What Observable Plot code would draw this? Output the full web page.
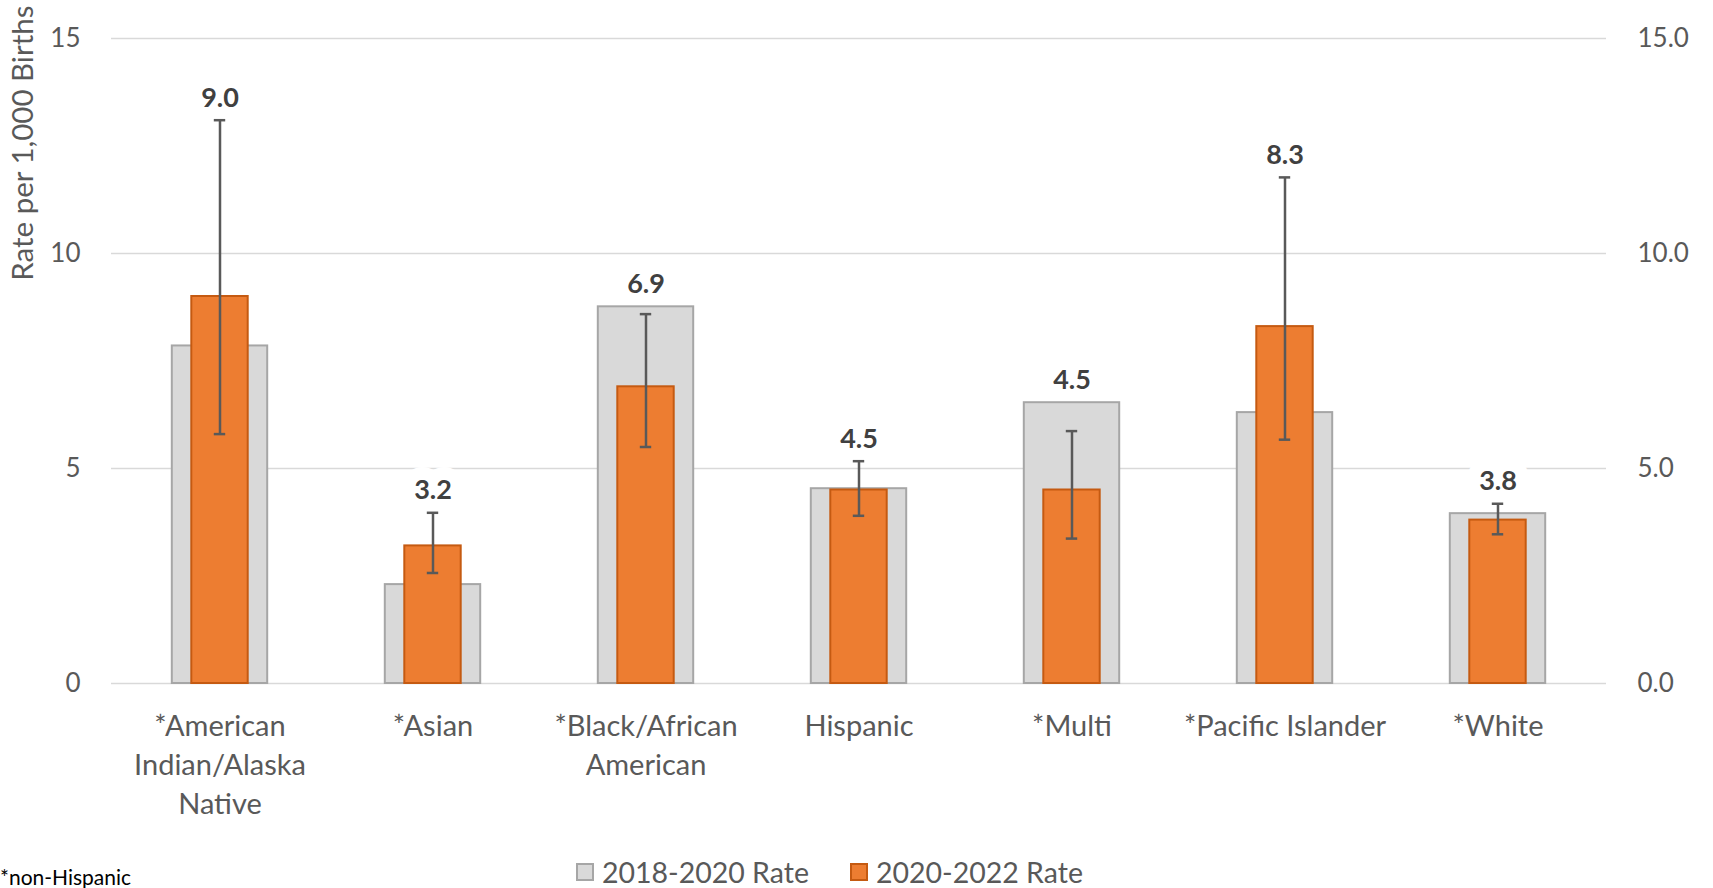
<!DOCTYPE html>
<html>
<head>
<meta charset="utf-8">
<script src="https://cdn.jsdelivr.net/npm/d3@7"></script>
<script src="https://cdn.jsdelivr.net/npm/@observablehq/plot@0.6"></script>
<style>
  html, body { margin: 0; padding: 0; background: #fff; overflow: hidden; }
  #wrap { position: relative; width: 1713px; height: 888px; font-family: Lato, "Open Sans", sans-serif; }
  #legend { position: relative; width: 1713px; height: 43px; }
  .item { position: absolute; top: 10px; display: flex; align-items: center; font-size: 28.5px; color: #595959; white-space: nowrap; }
  .sw { width: 18px; height: 18px; margin-right: 8px; box-sizing: border-box; }
  #foot { position: absolute; left: 0px; top: 19px; font-size: 21px; color: #000; white-space: nowrap; }
</style>
</head>
<body>
<div id="wrap">
  <div id="chart"></div>
  <div id="legend"></div>
</div>
<script>
const categories = ["*American Indian/Alaska Native", "*Asian", "*Black/African American", "Hispanic", "*Multi", "*Pacific Islander", "*White"];
const tickLabels = ["*American\nIndian/Alaska\nNative", "*Asian", "*Black/African\nAmerican", "Hispanic", "*Multi", "*Pacific Islander", "*White"];
const rate2018 = [7.85, 2.30, 8.76, 4.53, 6.53, 6.30, 3.95];
const rate2020 = [9.0, 3.2, 6.9, 4.5, 4.5, 8.3, 3.8];
const ciLow = [5.8, 2.57, 5.5, 3.9, 3.37, 5.67, 3.47];
const ciHigh = [13.1, 3.97, 8.59, 5.17, 5.87, 11.77, 4.18];
const yTicks = [0, 5, 10, 15];
const seriesNames = ["2018-2020 Rate", "2020-2022 Rate"];

const rows = categories.map((c, i) => ({
  cat: c, r18: rate2018[i], r20: rate2020[i], lo: ciLow[i], hi: ciHigh[i],
  labelY: Math.max(rate2018[i], ciHigh[i]), label: rate2020[i].toFixed(1)
}));
const labelMap = new Map(categories.map((c, i) => [c, tickLabels[i]]));

const GRAY = "#d9d9d9", GRAYSTROKE = "#a6a6a6", ORANGE = "#ed7d31", ORANGESTROKE = "#c55a11";
const font = "Lato, 'Open Sans', sans-serif";

const chart = Plot.plot({
  width: 1713,
  height: 845,
  marginLeft: 111,
  marginRight: 107,
  marginTop: 38,
  marginBottom: 162,
  style: { fontFamily: font, background: "white", color: "#595959" },
  x: { domain: categories, padding: 0, label: null },
  y: { domain: [0, 15], label: null },
  marks: [
    Plot.ruleY(yTicks, { stroke: "#d9d9d9", strokeWidth: 1.5 }),
    Plot.text(rows, { x: "cat", y: "labelY", text: "label", dy: -22, fontSize: 27, fontWeight: "bold", fill: "white", stroke: "white", strokeWidth: 26, strokeLinejoin: "miter" }),
    Plot.barY(rows, { x: "cat", y: "r18", fill: GRAY, stroke: GRAYSTROKE, strokeWidth: 2, insetLeft: 58.8, insetRight: 58.8 }),
    Plot.barY(rows, { x: "cat", y: "r20", fill: ORANGE, stroke: ORANGESTROKE, strokeWidth: 2, insetLeft: 78.3, insetRight: 78.3 }),
    Plot.ruleX(rows, { x: "cat", y1: "lo", y2: "hi", stroke: "#595959", strokeWidth: 2.5 }),
    Plot.tickY(rows, { x: "cat", y: "lo", stroke: "#595959", strokeWidth: 2.5, insetLeft: 100.8, insetRight: 100.8 }),
    Plot.tickY(rows, { x: "cat", y: "hi", stroke: "#595959", strokeWidth: 2.5, insetLeft: 100.8, insetRight: 100.8 }),
    Plot.text(rows, { x: "cat", y: "labelY", text: "label", dy: -22, fontSize: 27, fontWeight: "bold", fill: "#404040" }),
    Plot.axisY(yTicks, { anchor: "left", tickSize: 0, tickPadding: 31, fontSize: 26, fill: "#595959", label: null, tickFormat: d3.format("d") }),
    Plot.axisY(yTicks, { anchor: "right", tickSize: 0, tickPadding: 31, fontSize: 26, fill: "#595959", label: null, tickFormat: d3.format(".1f") }),
    Plot.axisX({ tickSize: 0, tickPadding: 24, fontSize: 29, fill: "#595959", label: null, lineHeight: 1.36, tickFormat: d => labelMap.get(d) }),
    Plot.text(["Rate per 1,000 Births"], { frameAnchor: "top-left", rotate: -90, textAnchor: "end", dx: -99, dy: -33, fontSize: 29.5, fill: "#595959" })
  ]
});
document.getElementById("chart").appendChild(chart);

const legend = document.getElementById("legend");
const items = [
  { name: seriesNames[0], fill: GRAY, stroke: GRAYSTROKE, left: 576 },
  { name: seriesNames[1], fill: ORANGE, stroke: ORANGESTROKE, left: 850 }
];
for (const it of items) {
  const d = document.createElement("div");
  d.className = "item";
  d.style.left = it.left + "px";
  const sw = document.createElement("div");
  sw.className = "sw";
  sw.style.background = it.fill;
  sw.style.border = "2px solid " + it.stroke;
  d.appendChild(sw);
  const t = document.createElement("span");
  t.textContent = it.name;
  d.appendChild(t);
  legend.appendChild(d);
}
const foot = document.createElement("div");
foot.id = "foot";
foot.textContent = "*non-Hispanic";
legend.appendChild(foot);
</script>
</body>
</html>
